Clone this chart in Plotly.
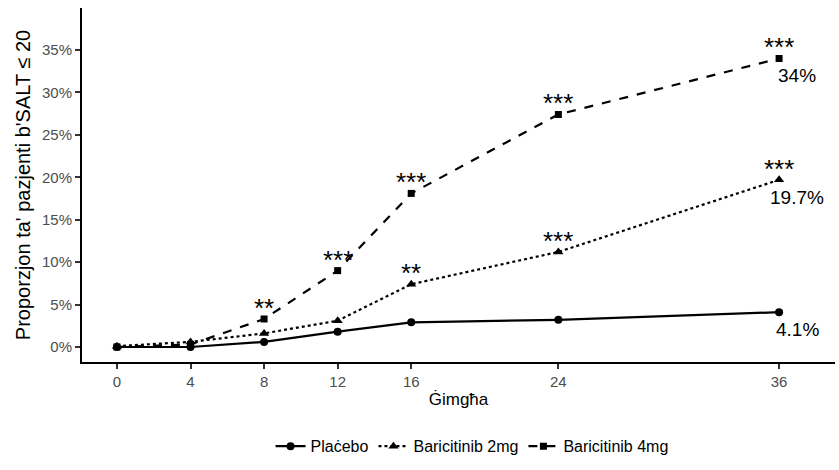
import plotly.graph_objects as go

weeks = [0, 4, 8, 12, 16, 24, 36]
placebo = [0.0, 0.0, 0.6, 1.8, 2.9, 3.2, 4.1]
bari_2mg = [0.1, 0.6, 1.6, 3.1, 7.4, 11.2, 19.7]
bari_4mg = [0.0, 0.3, 3.3, 9.0, 18.1, 27.4, 34.0]

stars_2mg = ["", "", "", "", "**", "***", "***"]
stars_4mg = ["", "", "**", "***", "***", "***", "***"]

end_labels = ["4.1%", "19.7%", "34%"]
end_values = [placebo[-1], bari_2mg[-1], bari_4mg[-1]]

series_names = ["Plaċebo", "Baricitinib 2mg", "Baricitinib 4mg"]
x_ticks = [0, 4, 8, 12, 16, 24, 36]
y_ticks = [0, 5, 10, 15, 20, 25, 30, 35]
y_tick_text = [f"{v}%" for v in y_ticks]

FONT = "Liberation Sans, Arial, sans-serif"

fig = go.Figure()
styles = [
    (placebo, "solid", "circle", 8),
    (bari_2mg, "dot", "triangle-up", 9),
    (bari_4mg, "dash", "square", 7),
]
for name, (vals, dash, sym, msize) in zip(series_names, styles):
    fig.add_trace(go.Scatter(
        x=weeks, y=vals, name=name, mode="lines+markers",
        line=dict(color="black", width=2.2, dash=dash),
        marker=dict(symbol=sym, size=msize, color="black"),
    ))

annotations = []
for stars, vals in [(stars_2mg, bari_2mg), (stars_4mg, bari_4mg)]:
    for x, y, s in zip(weeks, vals, stars):
        if s:
            annotations.append(dict(
                x=x, y=y, xref="x", yref="y", text=s, showarrow=False,
                xanchor="center", yanchor="middle", yshift=11,
                font=dict(family=FONT, size=26, color="black"),
            ))
for lab, v in zip(end_labels, end_values):
    annotations.append(dict(
        x=weeks[-1], y=v, xref="x", yref="y", text=lab, showarrow=False,
        xanchor="center", yanchor="top", xshift=18, yshift=-5,
        font=dict(family=FONT, size=19, color="black"),
    ))

fig.update_layout(
    width=839, height=470,
    margin=dict(l=82, r=4, t=8, b=108),
    paper_bgcolor="white", plot_bgcolor="white",
    font=dict(family=FONT, color="black"),
    showlegend=True,
    legend=dict(orientation="h", x=0.518, xanchor="center", y=-0.238, yanchor="middle",
                font=dict(family=FONT, size=16, color="black"), itemwidth=30),
    annotations=annotations,
    xaxis=dict(
        range=[-1.9, 39.04], tickvals=x_ticks, showgrid=False, zeroline=False,
        automargin=False,
        showline=True, linecolor="black", linewidth=2,
        ticks="outside", ticklen=5, tickwidth=1.5, tickcolor="#333333",
        tickfont=dict(family=FONT, size=15, color="#4d4d4d"),
        title=dict(text="Ġimgħa", font=dict(family=FONT, size=17, color="black"), standoff=4),
    ),
    yaxis=dict(
        range=[-1.77, 39.95], tickvals=y_ticks, ticktext=y_tick_text,
        showgrid=False, zeroline=False, automargin=False,
        showline=True, linecolor="black", linewidth=2,
        ticks="outside", ticklen=5, tickwidth=1.5, tickcolor="#333333",
        tickfont=dict(family=FONT, size=15, color="#4d4d4d"),
        title=dict(text="Proporzjon ta' pazjenti b'SALT ≤ 20", font=dict(family=FONT, size=20, color="black"), standoff=6),
    ),
)

fig.write_html("out.html", config={"displayModeBar": False},
               post_script="document.body.style.margin='0';")
